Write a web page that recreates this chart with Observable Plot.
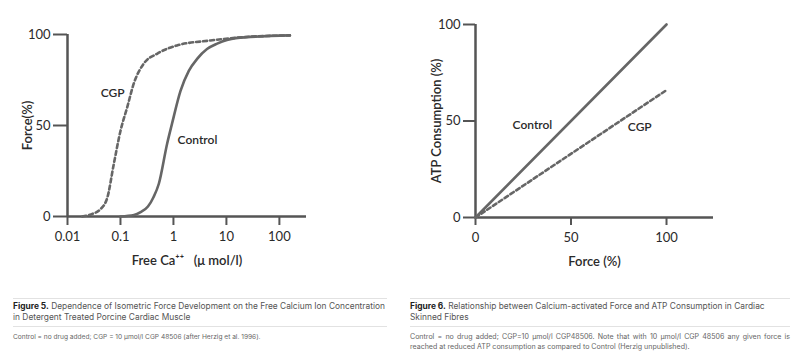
<!DOCTYPE html>
<html>
<head>
<meta charset="utf-8">
<script src="https://cdn.jsdelivr.net/npm/d3@7"></script>
<script src="https://cdn.jsdelivr.net/npm/@observablehq/plot@0.6"></script>
<style>
  html, body { margin: 0; padding: 0; background: #fff; }
  #wrap { position: relative; width: 801px; height: 362px; overflow: hidden; background: #fff; }
  .plot { position: absolute; top: 0; }
  .cap { position: absolute; font-family: Inter, "Noto Sans", sans-serif; color: #555; }
  .cap .title { border-top: 1px solid #e2e2e2; border-bottom: 1px solid #e2e2e2; padding: 2px 0 3px 0; font-size: 8.4px; line-height: 11px; }
  .cap .title b { color: #222; }
  .cap .note { font-size: 6.6px; line-height: 10px; padding-top: 5px; color: #666; }
  .cap.right .note { font-size: 7.05px; text-align: justify; }
</style>
</head>
<body>
<div id="wrap"></div>
<script>
// ---- Figure 5 data: Force (%) vs free Ca++ (µmol/l), log scale ----
const fig5Ca = [0.1, 0.18, 0.24, 0.33, 0.42, 0.53, 0.76, 0.94, 1.36, 1.95, 2.8, 4.3, 6.7, 15, 158];
const fig5Control = [0, 0.8, 2.4, 5.5, 10.6, 18, 40, 51, 69, 80, 86.6, 92, 95, 98, 99.5];
const fig5CaCGP = [0.019, 0.03, 0.04, 0.056, 0.075, 0.1, 0.134, 0.178, 0.275, 0.49, 1.17, 5, 20, 158];
const fig5CGP = [0, 1.5, 3.5, 10, 29, 47, 60, 73, 84, 89.4, 94, 96.7, 98.5, 99.5];
const fig5XTicks = [0.01, 0.1, 1, 10, 100];
const fig5XTickLabels = ["0.01", "0.1", "1", "10", "100"];
const fig5YTicks = [0, 50, 100];
const fig5SeriesLabels = ["CGP", "Control"];
const fig5LabelCa = [0.071, 2.84];
const fig5LabelForce = [67.6, 41.8];

// ---- Figure 6 data: ATP consumption (%) vs Force (%) ----
const fig6Force = [0, 100];
const fig6Control = [0, 100];
const fig6CGP = [0, 66];
const fig6XTicks = [0, 50, 100];
const fig6YTicks = [0, 50, 100];
const fig6SeriesLabels = ["Control", "CGP"];
const fig6LabelForce = [29.8, 86];
const fig6LabelATP = [47.7, 46.6];

const toRows = (xs, ys) => xs.map((x, i) => ({x, y: ys[i]}));
const AX = "#555";
const LN = "#666";
const FONT = "Lato, 'Noto Sans', sans-serif";

const fig5 = Plot.plot({
  width: 400, height: 280,
  marginLeft: 67, marginRight: 94, marginTop: 34, marginBottom: 64,
  x: {type: "log", domain: [0.01, 325]},
  y: {domain: [0, 100]},
  style: {fontFamily: FONT, fontSize: "13px", color: "#2a2a2a", background: "transparent"},
  marks: [
    Plot.axisX({ticks: fig5XTicks, tickFormat: (d) => fig5XTickLabels[fig5XTicks.indexOf(d)], tickSize: 9, tickPadding: 6, stroke: AX, strokeWidth: 2,
      label: "Free Ca\u207A\u207A\u00A0\u00A0\u00A0(\u03BC mol/l)", labelAnchor: "center", labelOffset: 48, labelArrow: "none"}),
    Plot.axisY({ticks: fig5YTicks, tickSize: 14, tickPadding: 3, stroke: AX, strokeWidth: 2,
      label: "Force(%)", labelAnchor: "center", labelOffset: 45, labelArrow: "none"}),
    Plot.ruleY([0], {stroke: AX, strokeWidth: 2.5}),
    Plot.ruleX([0.01], {stroke: AX, strokeWidth: 2.5}),
    Plot.line(toRows(fig5CaCGP, fig5CGP), {x: "x", y: "y", stroke: LN, strokeWidth: 2.6, strokeDasharray: "4,3", curve: "monotone-x"}),
    Plot.line(toRows(fig5Ca, fig5Control), {x: "x", y: "y", stroke: LN, strokeWidth: 2.6, curve: "monotone-x"}),
    Plot.text(fig5SeriesLabels, {x: (d, i) => fig5LabelCa[i], y: (d, i) => fig5LabelForce[i], text: (d) => d, fontSize: 12, fontWeight: 600, fill: "#2a2a2a"})
  ]
});

const fig6 = Plot.plot({
  width: 400, height: 280,
  marginLeft: 75, marginRight: 87, marginTop: 24, marginBottom: 63,
  x: {domain: [0, 124.6]},
  y: {domain: [0, 100]},
  style: {fontFamily: FONT, fontSize: "13px", color: "#2a2a2a", background: "transparent"},
  marks: [
    Plot.axisX({ticks: fig6XTicks, tickSize: 8, tickPadding: 7, stroke: AX, strokeWidth: 2,
      label: "Force (%)", labelAnchor: "center", labelOffset: 48, labelArrow: "none"}),
    Plot.axisY({ticks: fig6YTicks, tickSize: 12, tickPadding: 3, stroke: AX, strokeWidth: 2,
      label: "ATP Consumption (%)", labelAnchor: "center", labelOffset: 44, labelArrow: "none"}),
    Plot.ruleY([0], {stroke: AX, strokeWidth: 2.5}),
    Plot.ruleX([0], {stroke: AX, strokeWidth: 2.5}),
    Plot.line(toRows(fig6Force, fig6CGP), {x: "x", y: "y", stroke: LN, strokeWidth: 2.6, strokeDasharray: "4,3"}),
    Plot.line(toRows(fig6Force, fig6Control), {x: "x", y: "y", stroke: LN, strokeWidth: 2.6}),
    Plot.text(fig6SeriesLabels, {x: (d, i) => fig6LabelForce[i], y: (d, i) => fig6LabelATP[i], text: (d) => d, fontSize: 12, fontWeight: 600, fill: "#2a2a2a"})
  ]
});

// Axis labels slightly bolder, as in the reference
for (const svg of [fig5, fig6]) {
  svg.querySelectorAll("[aria-label='x-axis label'] text, [aria-label='y-axis label'] text").forEach((t) => t.setAttribute("font-weight", "600"));
}

const wrap = document.getElementById("wrap");
fig5.classList.add("plot"); fig5.style.left = "0px";
fig6.classList.add("plot"); fig6.style.left = "400px";
wrap.appendChild(fig5);
wrap.appendChild(fig6);

function caption(cls, left, top, width, figNo, title, note) {
  const d = document.createElement("div");
  d.className = "cap " + cls;
  d.style.left = left + "px"; d.style.top = top + "px"; d.style.width = width + "px";
  const t = document.createElement("div"); t.className = "title";
  const b = document.createElement("b"); b.textContent = figNo;
  t.appendChild(b); t.appendChild(document.createTextNode(" " + title));
  const n = document.createElement("div"); n.className = "note"; n.textContent = note;
  d.appendChild(t); d.appendChild(n);
  wrap.appendChild(d);
}
caption("left", 13, 298, 374, "Figure 5.", "Dependence of Isometric Force Development on the Free Calcium Ion Concentration in Detergent Treated Porcine Cardiac Muscle",
  "Control = no drug added; CGP = 10 \u03BCmol/l CGP 48506 (after Herzig et al. 1996).");
caption("right", 410, 298, 380, "Figure 6.", "Relationship between Calcium-activated Force and ATP Consumption in Cardiac Skinned Fibres",
  "Control = no drug added; CGP=10 \u03BCmol/l CGP48506. Note that with 10 \u03BCmol/l CGP 48506 any given force is reached at reduced ATP consumption as compared to Control (Herzig unpublished).");
</script>
</body>
</html>
